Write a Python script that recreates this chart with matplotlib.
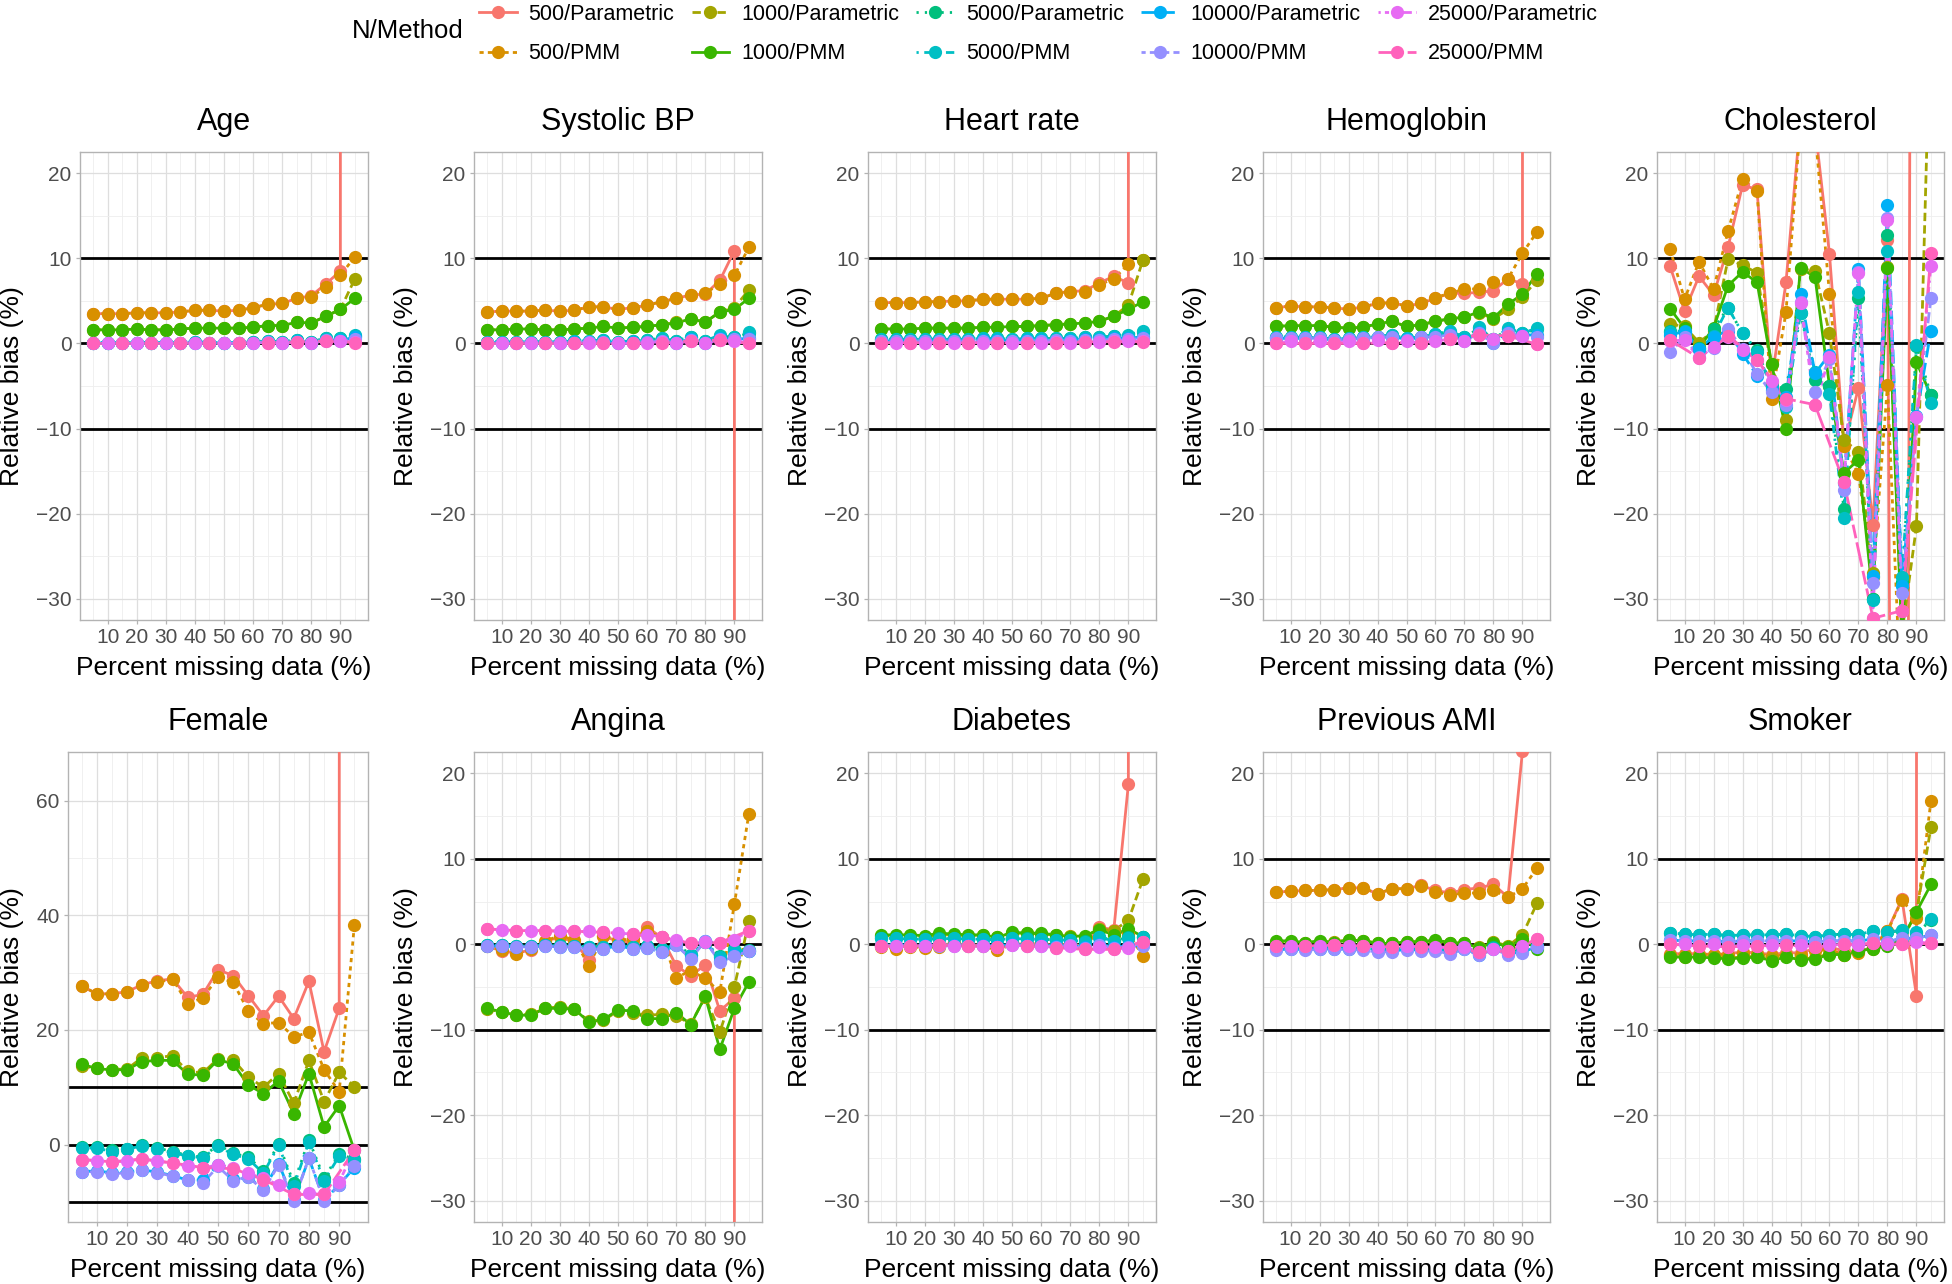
import numpy as np
import matplotlib
matplotlib.use("Agg")
import matplotlib.pyplot as plt
from matplotlib.lines import Line2D

plt.rcParams["font.family"] = ["Liberation Sans", "DejaVu Sans"]

nan = np.nan
BIG = 1e4  # values far off the visible scale

pct_missing = list(range(5, 100, 5))
groups = ["500/Parametric", "500/PMM", "1000/Parametric", "1000/PMM",
          "5000/Parametric", "5000/PMM", "10000/Parametric", "10000/PMM",
          "25000/Parametric", "25000/PMM"]
colors = ["#F8766D", "#D89000", "#A3A500", "#39B600", "#00BF7D",
          "#00BFC4", "#00B0F6", "#9590FF", "#E76BF3", "#FF62BC"]
styles = ["solid", (0, (1.5, 1.5)), (0, (3, 1.5)), "solid", (0, (0.8, 2.2)),
          (0, (0.8, 2, 3, 2)), (0, (5, 2)), (0, (1.5, 1.5, 4, 1.5)),
          (0, (0.8, 1.5, 1.5, 1.5, 2.2, 1.5, 3, 1.5)), (0, (9, 1.5, 5, 1.5))]

# one row per group, one column per percent missing
age = [
    [3.5, 3.5, 3.5, 3.6, 3.6, 3.6, 3.7, 3.9, 3.9, 3.8, 3.9, 4.2, 4.6, 4.7, 5.3, 5.6, 7.0, 8.5, BIG],
    [3.5, 3.5, 3.5, 3.6, 3.6, 3.6, 3.7, 3.9, 3.9, 3.8, 3.9, 4.2, 4.6, 4.7, 5.3, 5.5, 6.6, 8.0, 10.2],
    [1.6, 1.6, 1.6, 1.7, 1.6, 1.6, 1.7, 1.8, 1.8, 1.8, 1.8, 1.9, 2.1, 2.1, 2.5, 2.4, 3.2, 4.0, 7.6],
    [1.6, 1.6, 1.6, 1.7, 1.6, 1.6, 1.7, 1.8, 1.8, 1.8, 1.8, 1.9, 2.1, 2.1, 2.5, 2.4, 3.2, 4.0, 5.3],
    [0.1, 0.1, 0.1, 0.1, 0.1, 0.1, 0.1, 0.2, 0.1, 0.1, 0.1, 0.2, 0.3, 0.2, 0.4, 0.2, 0.6, 0.6, 0.9],
    [0.1, 0.1, 0.1, 0.1, 0.1, 0.1, 0.1, 0.2, 0.1, 0.1, 0.1, 0.2, 0.3, 0.2, 0.4, 0.2, 0.6, 0.6, 1.0],
    [0.0, 0.1, 0.0, 0.1, 0.0, 0.1, 0.0, 0.1, 0.1, 0.0, 0.1, 0.1, 0.2, 0.0, 0.3, 0.1, 0.4, 0.4, 0.7],
    [0.0, 0.0, 0.0, 0.0, 0.0, 0.0, 0.0, 0.1, 0.0, 0.0, 0.1, 0.1, 0.2, 0.0, 0.2, 0.0, 0.4, 0.3, 0.5],
    [0.0, 0.0, 0.0, 0.0, 0.0, 0.0, 0.0, 0.1, 0.0, 0.0, 0.0, 0.1, 0.1, 0.0, 0.2, 0.1, 0.3, 0.3, 0.2],
    [0.0, nan, 0.0, nan, 0.0, nan, 0.0, nan, 0.0, nan, 0.0, nan, 0.1, nan, 0.2, nan, 0.3, nan, 0.1],
]
systolic_bp = [
    [3.7, 3.8, 3.8, 3.8, 3.9, 3.8, 3.9, 4.3, 4.3, 4.0, 4.2, 4.5, 4.9, 5.3, 5.7, 5.8, 7.4, 10.9, -BIG],
    [3.7, 3.8, 3.8, 3.8, 3.9, 3.8, 3.9, 4.3, 4.3, 4.0, 4.2, 4.5, 4.9, 5.3, 5.7, 5.9, 7.0, 8.0, 11.3],
    [1.6, 1.6, 1.7, 1.7, 1.6, 1.6, 1.7, 1.8, 2.0, 1.8, 1.9, 2.0, 2.2, 2.5, 2.9, 2.5, 3.7, 4.2, 6.3],
    [1.6, 1.6, 1.7, 1.7, 1.6, 1.6, 1.7, 1.8, 2.0, 1.8, 1.9, 2.0, 2.2, 2.4, 2.9, 2.5, 3.7, 4.0, 5.3],
    [0.2, 0.2, 0.2, 0.2, 0.2, 0.2, 0.3, 0.3, 0.4, 0.2, 0.3, 0.4, 0.6, 0.3, 0.8, 0.3, 0.9, 0.7, 1.2],
    [0.2, 0.2, 0.2, 0.2, 0.2, 0.2, 0.3, 0.3, 0.4, 0.2, 0.3, 0.4, 0.6, 0.3, 0.8, 0.3, 1.0, 0.8, 1.3],
    [0.1, 0.1, 0.1, 0.1, 0.1, 0.1, 0.2, 0.2, 0.2, 0.1, 0.2, 0.2, 0.3, 0.1, 0.5, 0.1, 0.6, 0.5, 0.6],
    [0.1, 0.1, 0.1, 0.1, 0.1, 0.1, 0.1, 0.2, 0.2, 0.1, 0.1, 0.2, 0.3, 0.1, 0.4, 0.1, 0.5, 0.5, 0.5],
    [0.0, 0.0, 0.0, 0.0, 0.0, 0.0, 0.0, 0.1, 0.1, 0.0, 0.0, 0.1, 0.2, 0.0, 0.3, 0.0, 0.4, 0.3, 0.1],
    [0.0, nan, 0.0, nan, 0.0, nan, 0.0, nan, 0.0, nan, 0.0, nan, 0.1, nan, 0.3, nan, 0.4, nan, 0.0],
]
heart_rate = [
    [4.8, 4.8, 4.8, 4.9, 4.9, 5.0, 5.0, 5.2, 5.2, 5.2, 5.2, 5.3, 5.9, 6.1, 6.2, 7.1, 7.9, 7.1, BIG],
    [4.8, 4.8, 4.8, 4.9, 4.9, 5.0, 5.0, 5.2, 5.2, 5.2, 5.2, 5.3, 5.9, 6.1, 6.1, 6.9, 7.6, 9.3, 9.8],
    [1.7, 1.7, 1.7, 1.8, 1.8, 1.8, 1.8, 1.9, 1.9, 2.0, 2.0, 2.1, 2.2, 2.3, 2.4, 2.6, 3.2, 4.5, 9.8],
    [1.7, 1.7, 1.7, 1.8, 1.8, 1.8, 1.8, 1.9, 1.9, 2.0, 2.0, 2.1, 2.2, 2.3, 2.4, 2.6, 3.2, 4.0, 4.9],
    [0.5, 0.5, 0.5, 0.5, 0.5, 0.5, 0.5, 0.6, 0.6, 0.5, 0.6, 0.6, 0.6, 0.6, 0.7, 0.7, 0.9, 0.9, 1.4],
    [0.5, 0.5, 0.5, 0.5, 0.5, 0.5, 0.5, 0.6, 0.6, 0.5, 0.6, 0.6, 0.6, 0.6, 0.7, 0.7, 0.9, 1.0, 1.5],
    [0.3, 0.3, 0.3, 0.3, 0.3, 0.3, 0.3, 0.4, 0.4, 0.3, 0.4, 0.4, 0.4, 0.4, 0.5, 0.5, 0.6, 0.6, 0.8],
    [0.3, 0.3, 0.3, 0.3, 0.3, 0.3, 0.3, 0.3, 0.3, 0.3, 0.3, 0.3, 0.4, 0.3, 0.4, 0.4, 0.5, 0.5, 0.6],
    [0.1, 0.1, 0.1, 0.1, 0.1, 0.1, 0.1, 0.1, 0.1, 0.1, 0.1, 0.1, 0.2, 0.1, 0.2, 0.2, 0.3, 0.3, 0.3],
    [0.1, nan, 0.1, nan, 0.1, nan, 0.1, nan, 0.1, nan, 0.1, nan, 0.1, nan, 0.2, nan, 0.2, nan, 0.2],
]
hemoglobin = [
    [4.2, 4.4, 4.3, 4.3, 4.2, 4.0, 4.3, 4.7, 4.8, 4.4, 4.7, 5.3, 5.9, 5.9, 6.0, 6.2, 7.6, 7.0, BIG],
    [4.2, 4.4, 4.3, 4.3, 4.2, 4.0, 4.3, 4.7, 4.8, 4.4, 4.7, 5.4, 5.9, 6.4, 6.4, 7.2, 7.6, 10.6, 13.1],
    [2.0, 2.1, 2.1, 2.1, 1.9, 1.8, 1.9, 2.3, 2.6, 2.0, 2.2, 2.6, 2.9, 3.1, 3.6, 2.9, 4.0, 5.5, 7.4],
    [2.0, 2.1, 2.1, 2.1, 1.9, 1.8, 1.9, 2.3, 2.6, 2.0, 2.2, 2.6, 2.9, 3.1, 3.7, 3.0, 4.6, 5.8, 8.2],
    [0.7, 0.8, 0.7, 0.7, 0.5, 0.6, 0.7, 0.8, 1.0, 0.6, 0.8, 1.1, 1.4, 0.7, 1.8, 0.5, 1.7, 1.2, 1.7],
    [0.7, 0.8, 0.7, 0.7, 0.5, 0.6, 0.7, 0.8, 1.0, 0.6, 0.8, 1.1, 1.5, 0.7, 1.9, 0.5, 1.8, 1.2, 1.8],
    [0.6, 0.6, 0.6, 0.6, 0.4, 0.5, 0.6, 0.7, 0.8, 0.5, 0.7, 0.8, 1.1, 0.4, 1.3, 0.1, 1.4, 1.0, 1.0],
    [0.6, 0.6, 0.6, 0.6, 0.4, 0.5, 0.6, 0.7, 0.8, 0.4, 0.7, 0.8, 1.0, 0.3, 1.2, 0.0, 1.2, 0.9, 0.8],
    [0.0, 0.3, 0.0, 0.3, 0.0, 0.3, 0.0, 0.4, 0.1, 0.3, 0.0, 0.3, 0.5, 0.3, 1.0, 0.5, 0.9, 0.9, -0.1],
    [0.0, nan, 0.0, nan, 0.0, nan, 0.0, nan, 0.1, nan, 0.1, nan, 0.5, nan, 1.0, nan, 0.9, nan, -0.1],
]
cholesterol = [
    [9.1, 3.8, 7.9, 5.7, 11.3, 18.6, 18.1, -4.5, 7.2, 26.3, 25.5, 10.5, -12.0, -5.2, -21.3, 12.2, -300, 300, nan],
    [11.1, 5.2, 9.6, 6.4, 13.2, 19.3, 17.9, -6.5, 3.7, 26.0, 25.0, 5.8, -12.0, -15.4, -27.4, -4.9, -45, -60, nan],
    [2.3, 2.0, 0.1, 1.5, 9.9, 9.2, 8.3, -2.4, -9.0, 8.8, 8.5, 1.2, -11.3, -12.8, -27.0, 9.0, -34, -21.5, 41],
    [4.1, 1.8, -0.5, 1.8, 6.8, 8.4, 7.2, -2.4, -10.1, 8.9, 7.8, -5.0, -15.2, -13.7, -30.0, 8.9, -35, -2.2, -6.1],
    [1.5, 1.2, -0.5, 1.7, 4.2, 1.2, -0.8, -5.0, -5.3, 3.6, -4.3, -5.0, -19.5, 5.3, -30.0, 12.8, -28.0, -0.3, -6.1],
    [1.4, 1.5, -0.7, 0.9, 4.2, 1.2, -1.0, -5.1, -7.5, 3.6, -3.3, -5.9, -20.5, 6.1, -30.2, 10.9, -27.5, -0.2, -7.0],
    [1.0, 1.4, -0.6, 0.8, 1.5, -1.2, -3.8, -5.5, -6.3, 5.8, -3.5, -1.3, -16.4, 8.7, -27.3, 16.3, -28.5, -8.5, 1.5],
    [-1.0, 0.7, -1.6, -0.5, 1.7, -0.6, -3.6, -5.7, -7.2, 4.9, -5.7, -1.8, -17.2, 8.4, -28.2, 14.7, -29.3, -8.6, 5.3],
    [0.3, 0.4, -1.7, -0.4, 0.8, -0.8, -1.9, -4.4, -6.7, 4.7, -7.2, -1.6, -16.3, 8.3, -32.3, 14.5, -31.5, -8.6, 9.1],
    [0.4, nan, -1.7, nan, 0.9, nan, -1.9, nan, -6.5, nan, -7.2, nan, -16.3, nan, -32.3, nan, -31.4, nan, 10.6],
]
female = [
    [27.7, 26.3, 26.3, 26.7, 27.9, 28.6, 28.9, 25.7, 26.2, 30.5, 29.5, 26.0, 22.5, 25.9, 22.0, 28.5, 16.2, 23.8, BIG],
    [27.7, 26.3, 26.3, 26.7, 27.9, 28.3, 28.9, 24.6, 25.6, 29.2, 28.3, 23.3, 21.1, 21.3, 18.8, 19.6, 13.1, 9.2, 38.3],
    [13.7, 13.3, 13.1, 13.2, 15.2, 15.2, 15.5, 12.8, 12.5, 15.0, 14.8, 11.8, 10.0, 12.4, 7.2, 14.7, 7.5, 12.6, 10.1],
    [14.0, 13.3, 13.0, 13.1, 14.5, 14.7, 14.7, 12.3, 12.1, 14.8, 14.1, 10.4, 8.9, 11.1, 5.4, 12.4, 3.1, 6.8, -1.0],
    [-0.5, -0.5, -1.0, -0.7, 0.0, -0.6, -1.2, -1.9, -2.2, 0.0, -1.5, -2.2, -4.6, 0.1, -6.7, 0.8, -5.8, -1.7, -2.5],
    [-0.6, -0.6, -1.2, -0.8, -0.2, -0.8, -1.4, -2.0, -2.3, -0.3, -1.7, -2.5, -5.0, -0.1, -7.3, 0.5, -6.3, -2.0, -2.7],
    [-4.7, -4.6, -4.9, -4.8, -4.4, -4.8, -5.4, -6.2, -6.2, -3.6, -6.0, -5.6, -7.8, -3.3, -9.7, -2.4, -9.7, -7.0, -4.0],
    [-4.8, -4.7, -5.1, -4.9, -4.5, -4.9, -5.5, -6.1, -6.7, -3.8, -6.3, -5.6, -8.0, -3.5, -9.9, -2.3, -9.9, -7.1, -3.7],
    [-2.6, -2.8, -3.0, -2.9, -2.5, -2.9, -3.2, -3.8, -4.1, -3.5, -4.0, -5.0, -5.9, -7.0, -8.6, -8.5, -8.7, -6.5, -0.9],
    [-2.6, nan, -3.0, nan, -2.5, nan, -3.2, nan, -4.0, nan, -4.2, nan, -6.1, nan, -8.7, nan, -8.7, nan, -1.0],
]
angina = [
    [-0.2, -0.8, -1.0, -0.7, 0.3, 0.9, 0.2, -1.8, 1.0, 0.3, 0.3, 2.0, 0.8, -2.5, -3.7, -2.4, -7.8, -6.3, -BIG],
    [-0.2, -0.7, -1.1, -0.6, 0.4, 1.0, 0.5, -2.5, 1.0, 0.5, 0.6, 1.5, 0.8, -3.9, -3.1, -4.0, -5.6, 4.7, 15.3],
    [-7.6, -7.9, -8.3, -8.2, -7.5, -7.3, -7.6, -9.0, -8.9, -7.8, -8.0, -8.3, -8.2, -8.4, -9.3, -6.2, -10.3, -5.0, 2.7],
    [-7.5, -7.9, -8.3, -8.3, -7.5, -7.5, -7.6, -9.1, -8.8, -7.7, -7.8, -8.7, -8.7, -8.0, -9.4, -6.1, -12.3, -7.5, -4.4],
    [-0.1, -0.1, -0.2, -0.2, -0.1, -0.1, -0.2, -0.3, -0.3, -0.1, -0.3, -0.2, -0.5, 0.0, -1.2, 0.3, -1.4, -0.6, -0.7],
    [-0.1, -0.1, -0.2, -0.2, -0.1, -0.2, -0.2, -0.3, -0.3, -0.1, -0.3, -0.2, -0.6, 0.0, -1.3, 0.3, -1.5, -0.7, -0.8],
    [-0.2, -0.2, -0.3, -0.3, -0.2, -0.3, -0.3, -0.6, -0.5, -0.2, -0.5, -0.4, -0.9, -0.1, -1.6, 0.4, -2.0, -1.3, -0.8],
    [-0.2, -0.2, -0.3, -0.3, -0.2, -0.3, -0.3, -0.6, -0.5, -0.2, -0.5, -0.4, -0.9, -0.1, -1.7, 0.4, -2.1, -1.4, -0.8],
    [1.8, 1.7, 1.6, 1.6, 1.6, 1.5, 1.5, 1.5, 1.4, 1.3, 1.2, 1.1, 0.9, 0.5, 0.1, 0.3, 0.2, 0.5, 1.6],
    [1.8, nan, 1.6, nan, 1.6, nan, 1.5, nan, 1.4, nan, 1.2, nan, 0.8, nan, 0.1, nan, 0.2, nan, 1.6],
]
diabetes = [
    [-0.1, -0.3, -0.2, -0.3, -0.1, 0.1, -0.1, -0.1, -0.5, 0.1, 0.0, 0.1, -0.2, 0.1, -0.3, 2.0, 1.7, 18.7, BIG],
    [-0.3, -0.5, -0.3, -0.4, -0.3, 0.0, -0.2, -0.2, -0.7, 0.0, -0.1, 0.0, -0.3, 0.0, -0.4, 1.8, 1.5, 1.3, -1.4],
    [1.0, 1.0, 1.0, 0.9, 1.1, 1.1, 1.0, 1.1, 0.8, 1.3, 1.3, 1.2, 1.1, 1.0, 0.9, 1.8, 1.6, 2.8, 7.6],
    [1.1, 1.1, 1.1, 1.0, 1.3, 1.2, 1.1, 1.1, 0.8, 1.4, 1.3, 1.3, 1.1, 0.9, 1.0, 1.7, 1.1, 1.8, 0.9],
    [0.7, 0.7, 0.6, 0.6, 0.7, 0.7, 0.6, 0.6, 0.5, 0.7, 0.7, 0.6, 0.5, 0.5, 0.4, 0.9, 0.4, 0.8, 0.9],
    [0.7, 0.7, 0.6, 0.6, 0.6, 0.7, 0.6, 0.6, 0.5, 0.7, 0.6, 0.6, 0.5, 0.5, 0.3, 0.8, 0.4, 0.7, 0.8],
    [-0.1, -0.1, -0.1, -0.1, -0.1, -0.1, -0.1, -0.1, -0.2, 0.0, -0.1, -0.1, -0.2, -0.1, -0.3, 0.0, -0.3, -0.2, -0.1],
    [-0.2, -0.2, -0.2, -0.2, -0.2, -0.2, -0.2, -0.2, -0.3, -0.1, -0.2, -0.2, -0.3, -0.1, -0.4, -0.1, -0.4, -0.3, -0.2],
    [-0.2, -0.2, -0.2, -0.2, -0.1, -0.2, -0.2, -0.2, -0.3, -0.1, -0.2, -0.2, -0.4, -0.2, -0.6, -0.3, -0.6, -0.4, 0.3],
    [-0.2, nan, -0.2, nan, -0.1, nan, -0.2, nan, -0.3, nan, -0.2, nan, -0.4, nan, -0.6, nan, -0.6, nan, 0.3],
]
previous_ami = [
    [6.1, 6.2, 6.3, 6.3, 6.4, 6.6, 6.6, 5.9, 6.5, 6.5, 6.9, 6.3, 6.0, 6.4, 6.6, 7.0, 5.5, 22.6, BIG],
    [6.1, 6.2, 6.3, 6.3, 6.4, 6.6, 6.6, 5.9, 6.5, 6.5, 6.8, 6.1, 5.8, 6.0, 6.0, 6.3, 5.5, 6.5, 8.9],
    [0.3, 0.3, 0.2, 0.3, 0.3, 0.5, 0.4, 0.2, 0.2, 0.3, 0.3, 0.4, 0.2, 0.1, -0.3, 0.3, -0.2, 1.1, 4.8],
    [0.4, 0.4, 0.2, 0.4, 0.2, 0.5, 0.4, 0.1, 0.1, 0.3, 0.3, 0.5, 0.2, 0.1, -0.4, 0.2, -0.3, 0.6, -0.5],
    [-0.4, -0.3, -0.4, -0.3, -0.3, -0.3, -0.4, -0.5, -0.5, -0.4, -0.5, -0.5, -0.7, -0.3, -0.9, -0.3, -0.8, -0.6, -0.2],
    [-0.4, -0.4, -0.4, -0.4, -0.3, -0.4, -0.4, -0.6, -0.6, -0.4, -0.5, -0.5, -0.7, -0.4, -1.0, -0.4, -0.9, -0.7, -0.2],
    [-0.6, -0.6, -0.6, -0.6, -0.5, -0.6, -0.6, -0.8, -0.8, -0.6, -0.7, -0.7, -1.0, -0.5, -1.2, -0.5, -1.1, -0.9, -0.3],
    [-0.7, -0.6, -0.7, -0.6, -0.6, -0.6, -0.7, -0.9, -0.9, -0.7, -0.8, -0.8, -1.1, -0.6, -1.3, -0.6, -1.2, -1.0, -0.3],
    [-0.2, -0.2, -0.2, -0.2, -0.1, -0.2, -0.2, -0.3, -0.3, -0.2, -0.3, -0.3, -0.4, -0.3, -0.9, -0.5, -0.8, -0.2, 0.6],
    [-0.2, nan, -0.2, nan, -0.1, nan, -0.2, nan, -0.3, nan, -0.3, nan, -0.4, nan, -0.9, nan, -0.8, nan, 0.6],
]
smoker = [
    [-1.1, -1.1, -1.1, -1.2, -1.1, -0.9, -1.0, -1.2, -1.0, -1.0, -0.5, -0.3, -0.8, -0.9, -0.3, 1.6, 5.3, -6.0, BIG],
    [-1.2, -1.2, -1.2, -1.2, -1.2, -1.0, -1.1, -1.4, -1.2, -1.2, -0.8, -0.6, -1.2, -1.0, -0.4, 1.5, 5.2, 3.1, 16.8],
    [-1.4, -1.5, -1.4, -1.5, -1.6, -1.5, -1.4, -1.7, -1.4, -1.7, -1.6, -1.1, -1.2, -0.8, -0.5, -0.1, 0.5, 3.7, 13.7],
    [-1.5, -1.5, -1.5, -1.6, -1.7, -1.6, -1.5, -1.9, -1.5, -1.8, -1.7, -1.2, -1.2, -0.8, -0.5, -0.2, 0.5, 3.8, 7.0],
    [1.3, 1.2, 1.1, 1.2, 1.0, 1.1, 1.1, 1.1, 1.2, 1.0, 0.9, 1.1, 1.2, 1.1, 1.6, 1.4, 1.6, 1.3, 2.8],
    [1.3, 1.2, 1.1, 1.2, 1.0, 1.1, 1.1, 1.1, 1.2, 1.0, 0.9, 1.1, 1.2, 1.1, 1.6, 1.4, 1.7, 1.4, 2.9],
    [0.5, 0.4, 0.4, 0.4, 0.3, 0.4, 0.4, 0.4, 0.4, 0.4, 0.3, 0.4, 0.4, 0.4, 0.6, 0.3, 0.7, 0.7, 1.1],
    [0.5, 0.4, 0.4, 0.4, 0.3, 0.4, 0.4, 0.4, 0.4, 0.4, 0.3, 0.4, 0.4, 0.4, 0.6, 0.3, 0.7, 0.7, 1.1],
    [0.0, 0.0, -0.2, 0.0, -0.3, -0.1, -0.2, -0.1, -0.1, -0.1, -0.3, -0.1, 0.0, -0.1, 0.1, 0.0, 0.0, 0.3, 0.1],
    [0.0, nan, -0.2, nan, -0.3, nan, -0.2, nan, -0.1, nan, -0.3, nan, 0.0, nan, 0.1, nan, 0.0, nan, 0.1],
]

panels = [
    ("Age", age), ("Systolic BP", systolic_bp), ("Heart rate", heart_rate),
    ("Hemoglobin", hemoglobin), ("Cholesterol", cholesterol),
    ("Female", female), ("Angina", angina), ("Diabetes", diabetes),
    ("Previous AMI", previous_ami), ("Smoker", smoker),
]

W, H = 1952, 1284
fig = plt.figure(figsize=(W / 100, H / 100), dpi=100)

# panel boxes in pixels: left, right, top, bottom
col_x = [(80, 368), (474, 762), (868, 1156), (1263, 1550), (1657, 1944)]
rows_y = [(152, 620), (752, 1222)]

TXT = "#4D4D4D"
GRID = "#DEDEDE"
BORDER = "#B3B3B3"
LW = 2.0
MS = 9.5


def draw_panel(box, title, data, female_axis=False):
    left, right, top, bottom = box
    w, h = right - left, bottom - top
    ax = fig.add_axes([left / W, 1 - bottom / H, w / W, h / H])
    x = np.array(pct_missing, dtype=float)

    for y, c, ls in zip(data, colors, styles):
        y = np.array(y, dtype=float)
        ok = ~np.isnan(y)
        ax.plot(x[ok], y[ok], color=c, ls=ls, lw=LW, zorder=3)
    for y, c in zip(data, colors):
        y = np.array(y, dtype=float)
        ok = ~np.isnan(y)
        ax.plot(x[ok], y[ok], ls="none", marker="o", ms=MS, mew=0, color=c, zorder=4)

    for ref in (-10, 0, 10):
        ax.axhline(ref, color="black", lw=2.0, zorder=2)

    ax.set_xlim(0.5, 99.5)
    ax.set_xticks(range(10, 100, 10))
    ax.set_xticks(range(5, 100, 10), minor=True)
    if female_axis:
        ax.set_ylim(-13.5, 68.5)
        ax.set_yticks([0, 20, 40, 60])
        ax.set_yticks([-10, 10, 30, 50], minor=True)
    else:
        ax.set_ylim(-32.5, 22.5)
        ax.set_yticks(range(-30, 21, 10))
        ax.set_yticks(range(-25, 20, 10), minor=True)
    ax.set_yticklabels([str(v).replace("-", "\u2212") for v in ax.get_yticks().astype(int)])

    ax.grid(which="major", color=GRID, lw=0.9)
    ax.grid(which="minor", color="#EEEEEE", lw=0.6)
    ax.set_axisbelow(True)
    for sp in ax.spines.values():
        sp.set_color(BORDER)
        sp.set_linewidth(1.0)
    ax.tick_params(which="major", length=3, width=0.9, color=BORDER,
                   labelsize=15, labelcolor=TXT)
    ax.tick_params(axis="x", pad=3)
    ax.tick_params(axis="y", pad=3)
    ax.tick_params(which="minor", length=0)

    ax.set_xlabel("Percent missing data (%)", fontsize=19)
    ax.xaxis.set_label_coords(0.5, -48 / h)
    ax.xaxis.label.set_va("center")
    ax.set_ylabel("Relative bias (%)", fontsize=19)
    off = 56 if female_axis else 68
    ax.yaxis.set_label_coords(-off / w, 0.5)
    ax.yaxis.label.set_va("center")

    ax.text(0.5, 1 + 30 / h, title, transform=ax.transAxes, ha="center",
            va="center", fontsize=22)
    return ax


for i, (title, data) in enumerate(panels):
    r, c = divmod(i, 5)
    l, rgt = col_x[c]
    if title == "Female":
        l = 68
    t, b = rows_y[r]
    draw_panel((l, rgt, t, b), title, data, female_axis=(title == "Female"))

handles = [Line2D([0], [0], color=c, ls=ls, lw=LW, marker="o", ms=MS, mew=0)
           for c, ls in zip(colors, styles)]
fig.legend(handles, groups, ncol=5, loc="upper left",
           bbox_to_anchor=(479 / W, 1 - 4 / H), frameon=False, fontsize=15.5,
           handlelength=1.75, handletextpad=0.55, columnspacing=0.8,
           labelspacing=0.85, borderpad=0, borderaxespad=0)
fig.text(352 / W, 1 - 31 / H, "N/Method", ha="left", va="center", fontsize=18.5)

fig.savefig("out.png", dpi=100)
